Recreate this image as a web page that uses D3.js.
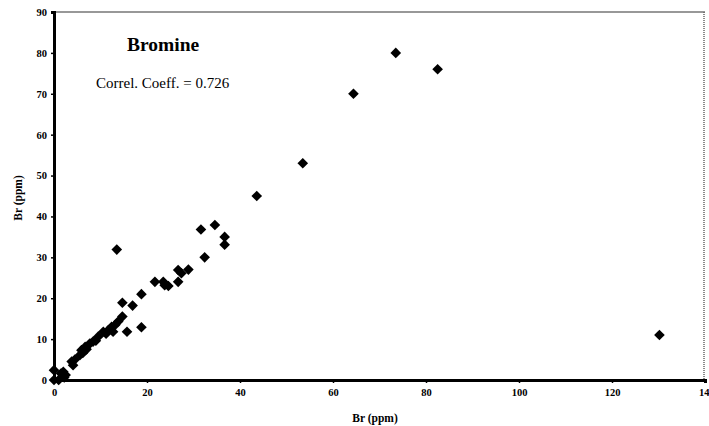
<!DOCTYPE html>
<html>
<head>
<meta charset="utf-8">
<script src="https://cdn.jsdelivr.net/npm/d3@7"></script>
<style>
  body { margin: 0; background: #fff; }
  svg { display: block; font-family: "Liberation Serif", "DejaVu Serif", serif; }
</style>
</head>
<body>
<div id="chart"></div>
<script>
// Br (ppm), method on x vs method on y
const xVals = [0, 0, 1, 1.5, 2, 2.2, 2.5, 3.8, 4.1, 4.5, 5.6, 5.9, 6.2, 6.7, 7, 7.7, 8.4, 9, 9.5, 10.6, 11.2, 11.7, 12.4, 12.7, 13.2, 13.8, 14.7, 13.5,
  14.7, 15.7, 16.9, 18.8, 18.8, 21.7, 23.5, 23.8, 24.6, 26.7, 26.7, 27.4, 28.9, 31.6, 32.4, 34.6, 36.7, 36.7,
  43.6, 53.5, 64.4, 73.5, 82.5, 130.2];
const yVals = [0, 2.4, 0, 1.6, 2, 0.6, 1.2, 4.5, 3.6, 5, 6.1, 7.3, 6.6, 8.1, 7.5, 8.9, 9.4, 9.6, 10.6, 11.8, 11.3, 12.2, 13, 11.8, 13.5, 14.3, 15.5, 31.9,
  18.9, 11.8, 18.2, 21, 12.9, 24, 24, 23.2, 23, 24, 26.9, 26.1, 27, 36.8, 30, 37.9, 35, 33.1,
  45, 53, 70, 80, 76, 11];
const xTicks = [0, 20, 40, 60, 80, 100, 120, 140];
const yTicks = [0, 10, 20, 30, 40, 50, 60, 70, 80, 90];

const width = 709, height = 426;
const margin = {top: 12, right: 4, bottom: 46, left: 54};

const svg = d3.select('#chart').append('svg').attr('width', width).attr('height', height);

const x = d3.scaleLinear().domain([0, 140]).range([margin.left, width - margin.right]);
const y = d3.scaleLinear().domain([0, 90]).range([height - margin.bottom, margin.top]);

// frame top + right
svg.append('line').attr('x1', x(0)).attr('x2', x(140)).attr('y1', y(90)).attr('y2', y(90))
  .attr('stroke', '#333').attr('stroke-width', 1.2);
svg.append('line').attr('x1', x(140) - 1).attr('x2', x(140) - 1).attr('y1', y(90)).attr('y2', y(0))
  .attr('stroke', '#666').attr('stroke-width', 1.5).attr('stroke-dasharray', '1,1');

// axes (last label is cut to "14" in the original)
const xAxis = svg.append('g').attr('transform', `translate(0,${y(0)})`)
  .call(d3.axisBottom(x).tickValues(xTicks).tickSize(3).tickPadding(6).tickFormat(d => d === 140 ? '14' : d));
const yAxis = svg.append('g').attr('transform', `translate(${x(0)},0)`)
  .call(d3.axisLeft(y).tickValues(yTicks).tickSize(3).tickPadding(4));

[xAxis, yAxis].forEach(g => {
  g.select('.domain').attr('stroke', '#000').attr('stroke-width', 3);
  g.selectAll('.tick line').attr('stroke', '#000').attr('stroke-width', 1.5);
  g.selectAll('.tick text').attr('fill', '#000').style('font-size', '10.5px').style('font-weight', 'bold')
    .style('font-family', '"Liberation Serif", "DejaVu Serif", serif');
});
xAxis.selectAll('.tick text').filter(d => d === 140).attr('text-anchor', 'end').attr('dx', 4);

// points
const diamond = d3.symbol().type(d3.symbolDiamond2).size(72);
svg.append('g').selectAll('path').data(xVals).enter().append('path')
  .attr('d', diamond)
  .attr('transform', (d, i) => `translate(${x(d)},${y(yVals[i])})`)
  .attr('fill', '#000');

// text
svg.append('text').attr('x', 127).attr('y', 51).text('Bromine')
  .style('font-size', '19.5px').style('font-weight', 'bold');
svg.append('text').attr('x', 96).attr('y', 88).text('Correl. Coeff. = 0.726')
  .style('font-size', '15px');

svg.append('text').attr('x', 375).attr('y', 422).attr('text-anchor', 'middle').text('Br (ppm)')
  .style('font-size', '11.5px').style('font-weight', 'bold');
svg.append('text').attr('transform', 'translate(22,198) rotate(-90)').attr('text-anchor', 'middle').text('Br (ppm)')
  .style('font-size', '11.5px').style('font-weight', 'bold');
</script>
</body>
</html>
